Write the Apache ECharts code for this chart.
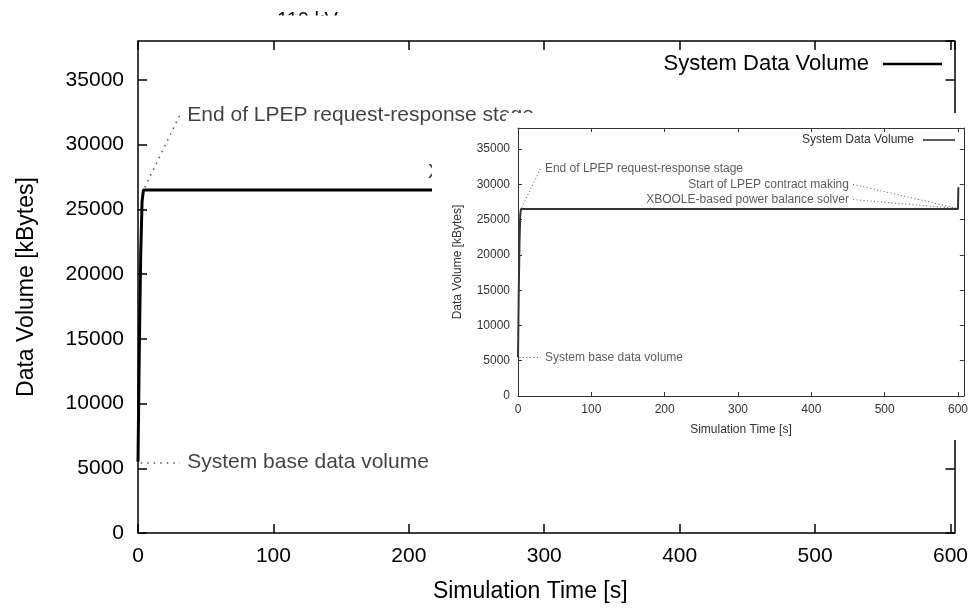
<!DOCTYPE html>
<html>
<head>
<meta charset="utf-8">
<title>System Data Volume</title>
<script src="https://cdn.jsdelivr.net/npm/echarts@6/dist/echarts.min.js"></script>
<style>
  html, body { margin: 0; padding: 0; background: #fff; }
  #chart { width: 971px; height: 608px; }
</style>
</head>
<body>
<div id="chart"></div>
<script>
// simulation time [s] and system data volume [kBytes]
const simTime = [0, 1, 2, 3, 4, 600, 600.5];
const dataVolume = [5500, 14500, 21500, 25600, 26500, 26500, 29600];

// tick labels
const timeTicks = [0, 100, 200, 300, 400, 500, 600];
const volumeTicks = [0, 5000, 10000, 15000, 20000, 25000, 30000, 35000];

// annotations: text, anchor of the text, dotted leader from -> to
const noteText = [
  'End of LPEP request-response stage',
  'System base data volume',
  'Start of LPEP contract making',
  'XBOOLE-based power balance solver'
];
const noteAt = [[36, 32300], [36, 5450], [452, 30000], [452, 27850]];
const leaderFrom = [[5, 26700], [2, 5450], [457, 30000], [457, 27850]];
const leaderTo = [[31, 32300], [31, 5450], [599, 26600], [599, 26600]];

const seriesName = 'System Data Volume';
const FONT = 'Liberation Sans, Arial, sans-serif';

// big chart and the smaller copy pasted over its right part
const panels = [
  { left: 138, top: 41, right: 15, bottom: 75, xMax: 603, font: 21, nameFont: 23, legendFont: 22, tick: 9,
    yLabelGap: 14, xLabelGap: 13, yNameGap: 100, xNameGap: 47, xNameShift: 32,
    lineW: 3, axisW: 1.5, ink: '#000', noteInk: '#111', z: 2, rightNoteShift: 33,
    legendRight: 29, legendTop: 53, legendLine: 59, legendPad: 9 },
  { left: 518, top: 128, right: 4, bottom: 212, xMax: 608, font: 12, nameFont: 12, legendFont: 12, tick: 4,
    yLabelGap: 8, xLabelGap: 8, yNameGap: 54, xNameGap: 28, xNameShift: 0,
    lineW: 2, axisW: 1, ink: '#333', noteInk: '#333', z: 60, rightNoteShift: 0,
    legendRight: 16, legendTop: 134, legendLine: 32, legendPad: 4 }
];

const grid = [], xAxis = [], yAxis = [], series = [], legend = [];

panels.forEach((p, k) => {
  grid.push({ left: p.left, top: p.top, right: p.right, bottom: p.bottom, z: p.z });

  const line = { show: true, onZero: false, lineStyle: { color: p.ink, width: p.axisW } };
  const tick = { show: true, inside: true, length: p.tick, lineStyle: { color: p.ink, width: p.axisW } };
  const label = { color: p.ink, fontSize: p.font, fontFamily: FONT };

  ['bottom', 'top'].forEach(pos => {
    xAxis.push({
      type: 'value', gridIndex: k, position: pos, min: 0, max: p.xMax, interval: 100, z: p.z,
      name: pos === 'bottom' ? 'Simulation Time [s]' : '',
      nameLocation: 'middle', nameGap: p.xNameGap,
      nameTextStyle: { color: p.ink, fontSize: p.nameFont, fontFamily: FONT, padding: [0, p.xNameShift, 0, 0] },
      axisLine: line, axisTick: tick, splitLine: { show: false },
      axisLabel: Object.assign({
        show: pos === 'bottom', margin: p.xLabelGap, showMaxLabel: false,
        formatter: v => timeTicks.includes(v) ? String(v) : ''
      }, label)
    });
  });
  ['left', 'right'].forEach(pos => {
    yAxis.push({
      type: 'value', gridIndex: k, position: pos, min: 0, max: 38000, interval: 5000, z: p.z,
      name: pos === 'left' ? 'Data Volume [kBytes]' : '',
      nameLocation: 'middle', nameGap: p.yNameGap,
      nameTextStyle: { color: p.ink, fontSize: p.nameFont, fontFamily: FONT },
      axisLine: line, axisTick: tick, splitLine: { show: false },
      axisLabel: Object.assign({
        show: pos === 'left', margin: p.yLabelGap, showMaxLabel: false,
        formatter: v => volumeTicks.includes(v) ? String(v) : ''
      }, label)
    });
  });

  const xi = 2 * k, yi = 2 * k;

  series.push({
    name: seriesName, type: 'line', xAxisIndex: xi, yAxisIndex: yi, z: p.z,
    data: simTime.map((t, i) => [t, dataVolume[i]]),
    showSymbol: false, symbol: 'none', silent: true,
    lineStyle: { color: p.ink, width: p.lineW },
    itemStyle: { color: p.ink }
  });

  series.push({
    name: 'leaders' + k, type: 'lines', coordinateSystem: 'cartesian2d',
    xAxisIndex: xi, yAxisIndex: yi, z: p.z, silent: true,
    data: leaderFrom.map((a, i) => ({ coords: [a, leaderTo[i]] })),
    lineStyle: { color: '#555', width: k === 0 ? 1.5 : 1, type: k === 0 ? [1.5, 5] : [1, 2.5], opacity: 1 }
  });

  series.push({
    name: 'notes' + k, type: 'scatter', xAxisIndex: xi, yAxisIndex: yi, z: p.z, silent: true,
    symbolSize: 1, itemStyle: { color: 'rgba(0,0,0,0)' },
    data: noteAt.map((pt, i) => ({
      value: pt, name: noteText[i],
      label: i < 2 ? { position: 'right' } : { position: 'left', offset: [p.rightNoteShift, 0] }
    })),
    label: {
      show: true, distance: 0, formatter: '{b}',
      color: p.noteInk, fontSize: p.font, fontFamily: FONT
    }
  });

  legend.push({
    data: [seriesName], selectedMode: false, align: 'right', orient: 'vertical',
    right: p.legendRight, top: p.legendTop, padding: 0, z: p.z + 1,
    icon: 'rect', itemWidth: p.legendLine, itemHeight: p.lineW * 0.8,
    itemStyle: { color: p.ink },
    textStyle: { color: p.ink, fontSize: p.legendFont, fontFamily: FONT, padding: [0, p.legendPad, 0, 0] }
  });
});

const chart = echarts.init(document.getElementById('chart'), null, { renderer: 'canvas' });

chart.setOption({
  animation: false,
  backgroundColor: '#fff',
  textStyle: { fontFamily: FONT },
  grid, xAxis, yAxis, series, legend,
  graphic: [
    // cropped title remnant at the very top
    { type: 'text', x: 277, y: 10, z: 1,
      style: { text: '110 kV', fontSize: 20, fontFamily: FONT, fill: '#000', verticalAlign: 'top' } },
    { type: 'rect', z: 2, shape: { x: 255, y: 15.5, width: 110, height: 23 }, style: { fill: '#fff' } },
    // white background of the pasted inset
    { type: 'rect', z: 50, shape: { x: 432, y: 122, width: 539, height: 318 }, style: { fill: '#fff' } },
    { type: 'rect', z: 50, shape: { x: 506, y: 113, width: 465, height: 10 }, style: { fill: '#fff' } }
  ]
});

window.addEventListener('resize', () => chart.resize());
</script>
</body>
</html>
